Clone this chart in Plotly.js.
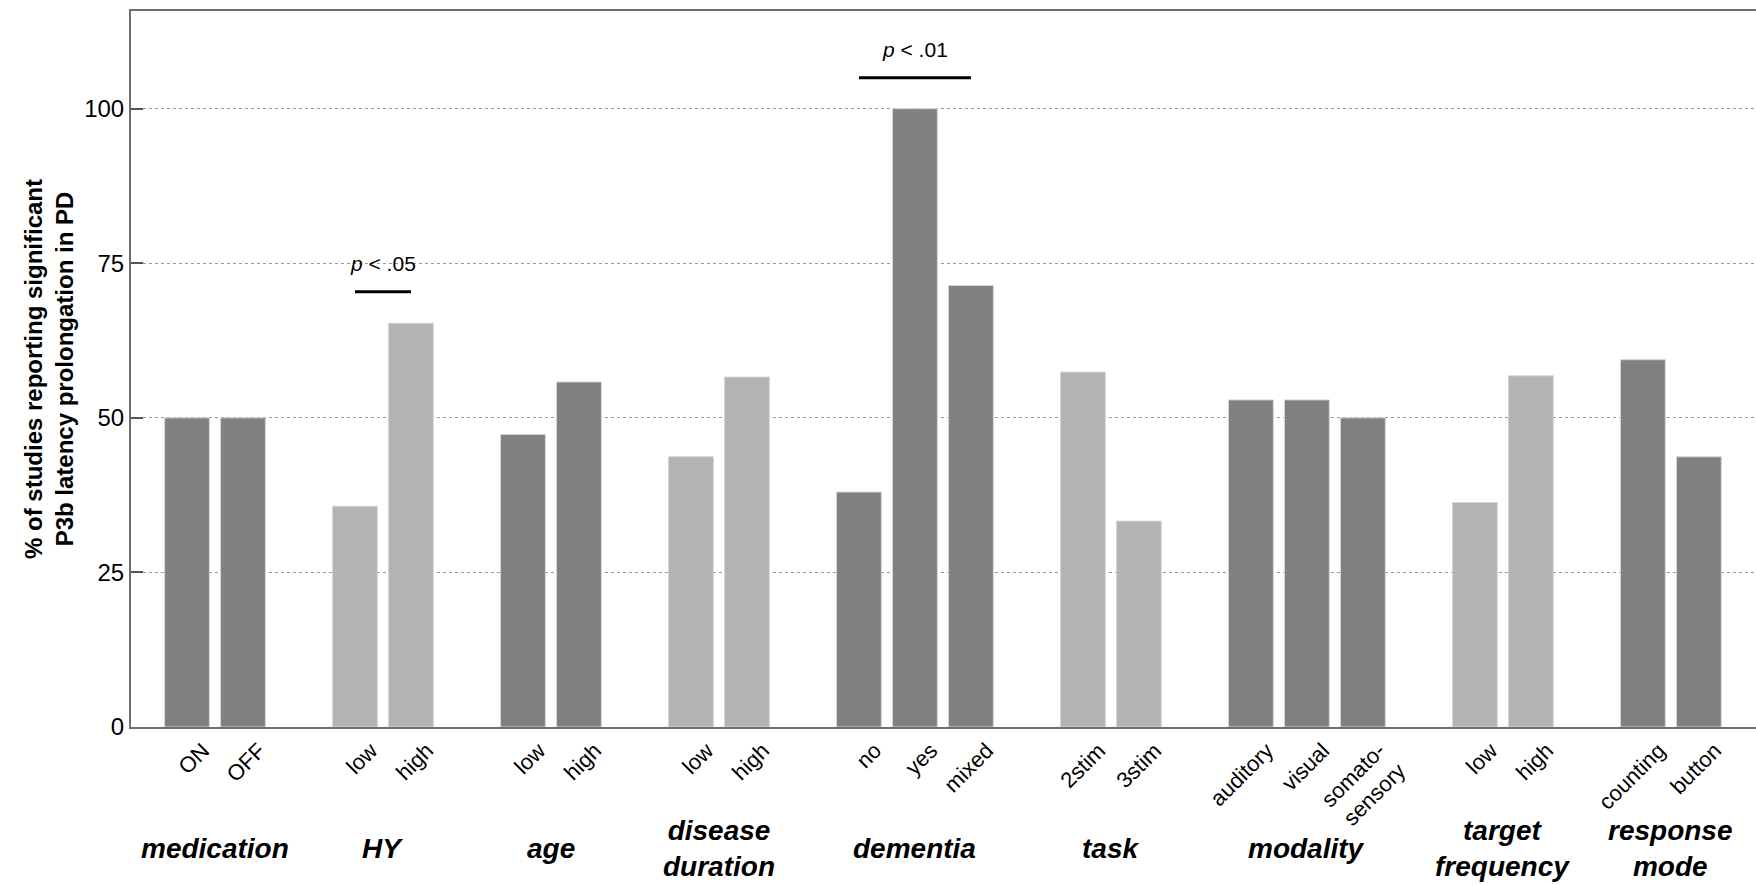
<!DOCTYPE html>
<html>
<head>
<meta charset="utf-8">
<script src="https://cdn.plot.ly/plotly-3.0.1.min.js"></script>
<style>html,body{margin:0;padding:0;background:#fff;}#chart{width:1756px;height:885px;}</style>
</head>
<body>
<div id="chart"></div>
<script>
// ---- data ----
const groupNames = ['medication', 'HY', 'age', 'disease<br>duration', 'dementia', 'task', 'modality', 'target<br>frequency', 'response<br>mode'];
const groupLevels = [
  ['ON', 'OFF'],
  ['low', 'high'],
  ['low', 'high'],
  ['low', 'high'],
  ['no', 'yes', 'mixed'],
  ['2stim', '3stim'],
  ['auditory', 'visual', 'somato-<br>sensory'],
  ['low', 'high'],
  ['counting', 'button']
];
const groupValues = [
  [50.0, 50.0],
  [35.7, 65.3],
  [47.3, 55.8],
  [43.7, 56.6],
  [38.0, 100.0, 71.4],
  [57.4, 33.3],
  [52.9, 52.9, 50.0],
  [36.3, 56.8],
  [59.4, 43.7]
];
const groupShade = ['dark', 'light', 'dark', 'light', 'dark', 'light', 'dark', 'light', 'dark'];
const yTicks = [0, 25, 50, 75, 100];
const sigTests = [
  {group: 1, from: 0, to: 1, label: '<i>p</i> < .05', lineY: 70.4, textY: 75.0},
  {group: 4, from: 0, to: 2, label: '<i>p</i> < .01', lineY: 105.0, textY: 109.6}
];

// ---- build positions (one empty slot between groups) ----
const shadeColor = {dark: '#808080', light: '#b3b3b3'};
const xs = [], ys = [], tickText = [], colors = [];
const groupStart = [], groupCenter = [];
let slot = 0;
groupLevels.forEach((levels, g) => {
  groupStart.push(slot);
  levels.forEach((lev, i) => {
    xs.push(slot);
    ys.push(groupValues[g][i]);
    tickText.push(lev);
    colors.push(shadeColor[groupShade[g]]);
    slot++;
  });
  groupCenter.push(groupStart[g] + (levels.length - 1) / 2);
  slot++;
});

const FONT = 'Liberation Sans, Arial, Helvetica, sans-serif';

const trace = {
  type: 'bar',
  x: xs,
  y: ys,
  width: 0.8,
  marker: {color: colors, line: {color: '#d4d4d4', width: 1}},
  hoverinfo: 'x+y'
};

const annotations = groupNames.map((name, g) => ({
  x: groupCenter[g], xref: 'x',
  y: -0.17, yref: 'paper',
  text: '<b><i>' + name + '</i></b>',
  showarrow: false,
  xanchor: 'center', yanchor: 'middle',
  font: {family: FONT, size: 28, color: '#000'}
}));
const shapes = [];
sigTests.forEach(t => {
  const x0 = groupStart[t.group] + t.from;
  const x1 = groupStart[t.group] + t.to;
  shapes.push({type: 'line', xref: 'x', yref: 'y', x0: x0, x1: x1, y0: t.lineY, y1: t.lineY,
    line: {color: '#000', width: 3}});
  annotations.push({x: (x0 + x1) / 2, xref: 'x', y: t.textY, yref: 'y', text: t.label,
    showarrow: false, xanchor: 'center', yanchor: 'middle', bgcolor: 'rgba(0,0,0,0)',
    font: {family: FONT, size: 21, color: '#000'}});
});

const layout = {
  width: 1756, height: 885,
  margin: {l: 131, r: 0, t: 11, b: 158},
  paper_bgcolor: '#fff', plot_bgcolor: '#fff',
  showlegend: false,
  font: {family: FONT, color: '#000'},
  xaxis: {
    range: [-1, 28.02],
    tickmode: 'array', tickvals: xs, ticktext: tickText,
    tickangle: -45, ticks: '',
    ticklabelshift: 16,
    tickfont: {family: FONT, size: 22, color: '#000'},
    showgrid: false, zeroline: false,
    showline: true, linecolor: '#6e6e6e', linewidth: 2, mirror: true
  },
  yaxis: {
    range: [0, 115.8],
    tickmode: 'array', tickvals: yTicks,
    ticks: 'inside', ticklen: 12, tickwidth: 2, tickcolor: '#555',
    tickfont: {family: FONT, size: 24, color: '#000'},
    showgrid: true, gridcolor: '#9a9a9a', gridwidth: 1, griddash: 'dot',
    zeroline: false,
    showline: true, linecolor: '#6e6e6e', linewidth: 2, mirror: false,
    title: {text: '<b>% of studies reporting significant<br>P3b latency prolongation in PD</b>',
      font: {family: FONT, size: 24, color: '#000'}, standoff: 4}
  },
  shapes: shapes,
  annotations: annotations,
  bargap: 0.2
};

Plotly.newPlot('chart', [trace], layout, {displayModeBar: false, staticPlot: true});
</script>
</body>
</html>
